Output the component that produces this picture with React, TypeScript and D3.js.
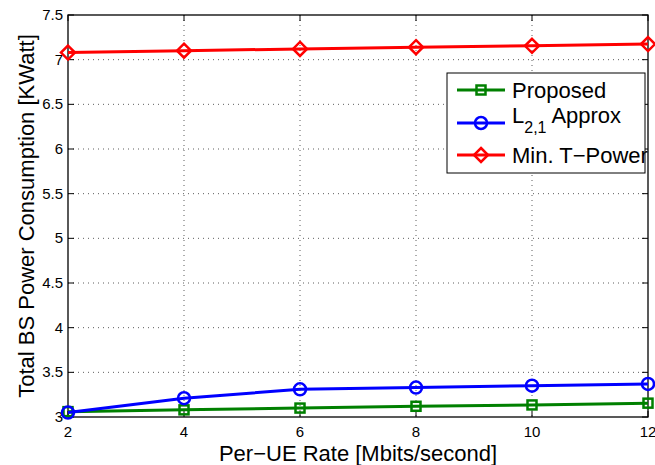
import { useRef, useEffect } from "react";
import * as d3 from "d3";

const rates = [2, 4, 6, 8, 10, 12];
const proposed = [3.06, 3.08, 3.1, 3.12, 3.135, 3.155];
const l21Approx = [3.05, 3.21, 3.31, 3.33, 3.35, 3.37];
const minTPower = [7.08, 7.1, 7.12, 7.14, 7.155, 7.175];
const xTicks = [2, 4, 6, 8, 10, 12];
const yTicks = [3, 3.5, 4, 4.5, 5, 5.5, 6, 6.5, 7, 7.5];

const series = [
  { name: "Proposed", values: proposed, color: "#008000", marker: "square" },
  { name: "L21", values: l21Approx, color: "#0000ff", marker: "circle" },
  { name: "Min. T\u2212Power", values: minTPower, color: "#ff0000", marker: "diamond" },
];

const font = "'Liberation Sans', Arial, Helvetica, sans-serif";

const drawMarker = (g, kind, x, y, color) => {
  if (kind === "square") {
    g.append("rect")
      .attr("x", x - 4.5).attr("y", y - 4.5).attr("width", 9).attr("height", 9)
      .attr("fill", "none").attr("stroke", color).attr("stroke-width", 2.5);
  } else if (kind === "circle") {
    g.append("circle")
      .attr("cx", x).attr("cy", y).attr("r", 6)
      .attr("fill", "none").attr("stroke", color).attr("stroke-width", 2.5);
  } else {
    g.append("path")
      .attr("d", `M${x},${y - 7}L${x + 7},${y}L${x},${y + 7}L${x - 7},${y}Z`)
      .attr("fill", "none").attr("stroke", color).attr("stroke-width", 2.5);
  }
};

const App = () => {
  const svgRef = useRef(null);

  useEffect(() => {
    const svg = d3.select(svgRef.current);
    svg.selectAll("*").remove();

    const left = 68, right = 648, top = 15, bottom = 417;
    const x = d3.scaleLinear().domain([2, 12]).range([left, right]);
    const y = d3.scaleLinear().domain([3, 7.5]).range([bottom, top]);

    svg.append("rect").attr("width", 655).attr("height", 465).attr("fill", "#fff");

    // grid
    const grid = svg.append("g").attr("stroke", "#333").attr("stroke-width", 0.8)
      .attr("stroke-dasharray", "1,4");
    xTicks.slice(1, -1).forEach((t) => {
      grid.append("line").attr("x1", x(t)).attr("x2", x(t)).attr("y1", top).attr("y2", bottom);
    });
    yTicks.slice(1, -1).forEach((t) => {
      grid.append("line").attr("x1", left).attr("x2", right).attr("y1", y(t)).attr("y2", y(t));
    });

    // ticks inside, on all four sides
    const ticks = svg.append("g").attr("stroke", "#000").attr("stroke-width", 1);
    xTicks.forEach((t) => {
      ticks.append("line").attr("x1", x(t)).attr("x2", x(t)).attr("y1", bottom).attr("y2", bottom - 6);
      ticks.append("line").attr("x1", x(t)).attr("x2", x(t)).attr("y1", top).attr("y2", top + 6);
    });
    yTicks.forEach((t) => {
      ticks.append("line").attr("x1", left).attr("x2", left + 6).attr("y1", y(t)).attr("y2", y(t));
      ticks.append("line").attr("x1", right).attr("x2", right - 6).attr("y1", y(t)).attr("y2", y(t));
    });

    svg.append("rect")
      .attr("x", left).attr("y", top).attr("width", right - left).attr("height", bottom - top)
      .attr("fill", "none").attr("stroke", "#000").attr("stroke-width", 1.3);

    // tick labels
    svg.append("g").selectAll("text").data(xTicks).join("text")
      .attr("x", (d) => x(d)).attr("y", bottom + 20)
      .attr("text-anchor", "middle").attr("font-family", font).attr("font-size", 15)
      .text((d) => d);
    svg.append("g").selectAll("text").data(yTicks).join("text")
      .attr("x", left - 5).attr("y", (d) => y(d) + 5)
      .attr("text-anchor", "end").attr("font-family", font).attr("font-size", 15)
      .text((d) => d);

    // axis labels
    svg.append("text")
      .attr("x", (left + right) / 2).attr("y", 461)
      .attr("text-anchor", "middle").attr("font-family", font).attr("font-size", 22)
      .text("Per\u2212UE Rate [Mbits/second]");
    svg.append("text")
      .attr("transform", `translate(34,${(top + bottom) / 2}) rotate(-90)`)
      .attr("text-anchor", "middle").attr("font-family", font).attr("font-size", 22)
      .text("Total BS Power Consumption [KWatt]");

    // series
    const line = d3.line().x((d) => x(d[0])).y((d) => y(d[1]));
    series.forEach((s) => {
      const pts = rates.map((r, i) => [r, s.values[i]]);
      svg.append("path").datum(pts)
        .attr("fill", "none").attr("stroke", s.color).attr("stroke-width", 3)
        .attr("d", line);
      const mg = svg.append("g");
      pts.forEach((p) => drawMarker(mg, s.marker, x(p[0]), y(p[1]), s.color));
    });

    // legend
    const lg = svg.append("g");
    lg.append("rect")
      .attr("x", 447).attr("y", 73).attr("width", 198).attr("height", 100)
      .attr("fill", "#fff").attr("stroke", "#000").attr("stroke-width", 1);
    const rowsY = [90, 123, 155];
    series.forEach((s, i) => {
      const ry = rowsY[i];
      lg.append("line").attr("x1", 457).attr("x2", 505).attr("y1", ry).attr("y2", ry)
        .attr("stroke", s.color).attr("stroke-width", 3);
      drawMarker(lg, s.marker, 481, ry, s.color);
      const t = lg.append("text").attr("x", 512).attr("y", ry + 8)
        .attr("font-family", font).attr("font-size", 22);
      if (s.name === "L21") {
        t.attr("y", ry);
        t.append("tspan").text("L");
        t.append("tspan").attr("dy", 10).attr("font-size", 16).text("2,1");
        t.append("tspan").attr("dy", -10).text(" Approx");
      } else {
        t.text(s.name);
      }
    });
  }, []);

  return (
    <svg
      ref={svgRef}
      width={655}
      height={465}
      style={{ position: "absolute", left: 0, top: 0, display: "block" }}
    ></svg>
  );
};

export default App;
